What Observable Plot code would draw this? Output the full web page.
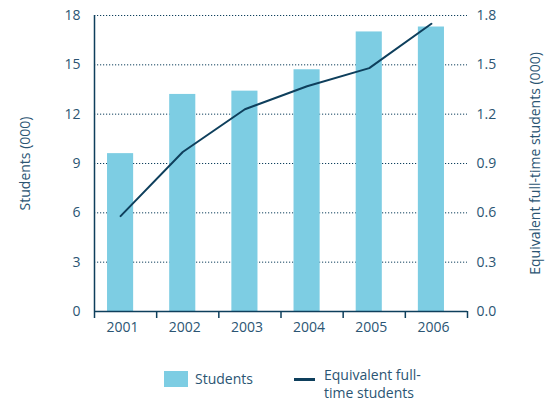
<!DOCTYPE html>
<html><head><meta charset="utf-8">
<script src="https://cdn.jsdelivr.net/npm/d3@7"></script>
<script src="https://cdn.jsdelivr.net/npm/@observablehq/plot@0.6"></script>
<style>
body{margin:0;background:#fff;font-family:"Open Sans",sans-serif;color:#2b5573;}
#wrap{width:550px;position:relative;}
#legend{position:relative;height:54px;font-size:14px;}
.sw{position:absolute;}
</style></head>
<body><div id="wrap"><div id="chart"></div>
<div id="legend">
  <div class="sw" style="left:164px;top:21px;width:24px;height:16px;background:#7dcde3"></div>
  <div class="sw" style="left:195px;top:19px;line-height:20px;">Students</div>
  <div class="sw" style="left:294px;top:28px;width:21px;height:3px;background:#0e3f5c"></div>
  <div class="sw" style="left:324px;top:16px;line-height:18px;">Equivalent full-<br>time students</div>
</div></div>
<script>
const years = [2001, 2002, 2003, 2004, 2005, 2006];
const students = [9.6, 13.2, 13.4, 14.7, 17.0, 17.3];
const fte = [0.58, 0.97, 1.23, 1.37, 1.48, 1.75];
const leftTicks = [0, 3, 6, 9, 12, 15, 18];
const rightTicks = [0.0, 0.3, 0.6, 0.9, 1.2, 1.5, 1.8];

const data = years.map((y, i) => ({year: y, students: students[i], fte: fte[i]}));
const boundaries = [years[0] - 0.5, ...years.map(y => y + 0.5)];
const ratio = leftTicks[leftTicks.length - 1] / rightTicks[rightTicks.length - 1];
const txt = "#2b5573", dark = "#0e3f5c";
const fs = 14;

const chart = Plot.plot({
  width: 550, height: 350,
  marginLeft: 94, marginRight: 83, marginTop: 15, marginBottom: 39,
  style: {fontFamily: "Open Sans, sans-serif", fontSize: "14px", color: txt, background: "#fff"},
  x: {type: "linear", domain: [boundaries[0], boundaries[boundaries.length - 1]]},
  y: {domain: [0, 18]},
  marks: [
    Plot.ruleY(leftTicks.slice(1), {stroke: dark, strokeDasharray: "1.2,1.8", strokeWidth: 1}),
    Plot.rectY(data, {x1: d => d.year - 0.21, x2: d => d.year + 0.21, y: "students", fill: "#7dcde3", dx: -5}),
    Plot.lineY(data, {x: "year", y: d => d.fte * ratio, stroke: dark, strokeWidth: 2, dx: -5}),
    Plot.axisY({ticks: leftTicks, tickSize: 0, tickPadding: 14, fontSize: fs, label: "Students (000)", labelAnchor: "center", labelArrow: "none", labelOffset: 74, fill: txt}),
    Plot.axisY({anchor: "right", ticks: leftTicks, tickSize: 0, tickPadding: 9, fontSize: fs, tickFormat: d => (d / ratio).toFixed(1), label: "Equivalent full-time students (000)", labelAnchor: "center", labelArrow: "none", labelOffset: 72, fill: txt}),
    Plot.axisX({ticks: boundaries, tickSize: 7, stroke: dark, strokeWidth: 1.5, text: null, label: null}),
    Plot.axisX({ticks: years, tickSize: 0, tickPadding: 11, fontSize: fs, tickFormat: d => String(d), label: null, fill: txt, dx: -3}),
    Plot.ruleX([boundaries[0]], {stroke: dark, strokeWidth: 1.5}),
    Plot.ruleY([0], {stroke: dark, strokeWidth: 1.5})
  ]
});
document.getElementById("chart").appendChild(chart);
</script></body></html>
